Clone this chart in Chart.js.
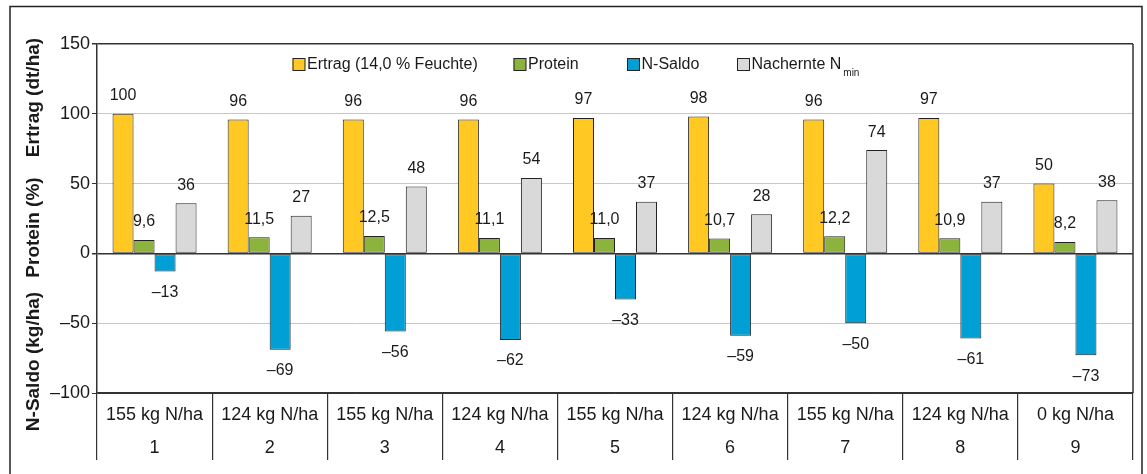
<!DOCTYPE html>
<html>
<head>
<meta charset="utf-8">
<script src="https://cdn.jsdelivr.net/npm/chart.js@4.4.1/dist/chart.umd.min.js"></script>
<style>
  html, body { margin: 0; padding: 0; background: #fff; }
  #wrap { width: 1147px; height: 474px; position: relative; }
</style>
</head>
<body>
<div id="wrap"><canvas id="chart" width="1147" height="474"></canvas></div>
<script>
// data
var rates = ["155 kg N/ha", "124 kg N/ha", "155 kg N/ha", "124 kg N/ha", "155 kg N/ha", "124 kg N/ha", "155 kg N/ha", "124 kg N/ha", "0 kg N/ha"];
var variants = ["1", "2", "3", "4", "5", "6", "7", "8", "9"];
var ertrag = [100, 96, 96, 96, 97, 98, 96, 97, 50];
var protein = [9.6, 11.5, 12.5, 11.1, 11.0, 10.7, 12.2, 10.9, 8.2];
var nSaldo = [-13, -69, -56, -62, -33, -59, -50, -61, -73];
var nachernte = [36, 27, 48, 54, 37, 28, 74, 37, 38];
var seriesNames = ["Ertrag (14,0 % Feuchte)", "Protein", "N-Saldo", "Nachernte N"];
var seriesColors = ["#FFC823", "#8CB43C", "#00A0D7", "#D9D9D9"];
var axisTitles = ["N-Saldo (kg/ha)", "Protein (%)", "Ertrag (dt/ha)"];

var FONT = "'Liberation Sans', Arial, sans-serif";
var INK = "#1a1a1a";

function fmt(v, dec) {
  var s = dec ? v.toFixed(1).replace(".", ",") : String(Math.round(v));
  return s.replace("-", "\u2013");
}

var labels = rates.map(function (r, i) { return [r, variants[i]]; });

function ds(name, data, color) {
  return {
    label: name, data: data, backgroundColor: color,
    borderColor: "#222", borderWidth: 1, borderSkipped: false
  };
}

var frame = {
  id: "frame",
  beforeDraw: function (chart) {
    var c = chart.ctx;
    c.save();
    c.fillStyle = "#fff";
    c.fillRect(0, 0, chart.width, chart.height);
    c.strokeStyle = "#222";
    c.lineWidth = 1.5;
    c.beginPath();
    c.moveTo(10, 480); c.lineTo(10, 6.5); c.lineTo(1142, 6.5); c.lineTo(1142, 480);
    c.stroke();
    c.restore();
  },
  afterDraw: function (chart) {
    var c = chart.ctx, a = chart.chartArea;
    c.save();
    // right border of the plot
    c.strokeStyle = "#333";
    c.lineWidth = 1.5;
    c.beginPath();
    c.moveTo(a.right, a.top); c.lineTo(a.right, a.bottom);
    c.stroke();

    // axis titles, rotated
    c.fillStyle = INK;
    c.font = "bold 19px " + FONT;
    c.textAlign = "center";
    c.textBaseline = "middle";
    var ys = [361.5, 227.5, 97.5];
    for (var i = 0; i < axisTitles.length; i++) {
      c.save();
      c.translate(34, ys[i]);
      c.rotate(-Math.PI / 2);
      c.fillText(axisTitles[i], 0, 0);
      c.restore();
    }

    // legend
    var boxX = [292.5, 513.5, 627, 737];
    c.font = "16px " + FONT;
    c.textAlign = "left";
    for (var j = 0; j < seriesNames.length; j++) {
      c.fillStyle = seriesColors[j];
      c.fillRect(boxX[j], 58, 12.5, 12.5);
      c.strokeStyle = "#222";
      c.lineWidth = 1;
      c.strokeRect(boxX[j] + 0.5, 58.5, 12, 12);
      c.fillStyle = INK;
      c.fillText(seriesNames[j], boxX[j] + 14.5, 64.5);
      if (j === 3) {
        var w = c.measureText(seriesNames[j]).width;
        c.font = "10px " + FONT;
        c.fillText("min", boxX[j] + 14.5 + w + 2, 73);
        c.font = "16px " + FONT;
      }
    }

    // value labels
    c.font = "16px " + FONT;
    c.textAlign = "center";
    c.textBaseline = "middle";
    chart.data.datasets.forEach(function (d, di) {
      var meta = chart.getDatasetMeta(di);
      meta.data.forEach(function (bar, k) {
        var v = d.data[k];
        var y = v >= 0 ? bar.y - 18 : bar.y + 21;
        c.fillText(fmt(v, di === 1), bar.x, y);
      });
    });
    c.restore();
  }
};

new Chart(document.getElementById("chart").getContext("2d"), {
  type: "bar",
  data: {
    labels: labels,
    datasets: [
      ds(seriesNames[0], ertrag, seriesColors[0]),
      ds(seriesNames[1], protein, seriesColors[1]),
      ds(seriesNames[2], nSaldo, seriesColors[2]),
      ds(seriesNames[3], nachernte, seriesColors[3])
    ]
  },
  options: {
    responsive: false,
    animation: false,
    devicePixelRatio: 1,
    layout: { padding: { left: 0, right: 14, top: 44, bottom: 0 } },
    datasets: { bar: { barPercentage: 1, categoryPercentage: 0.73 } },
    plugins: { legend: { display: false }, tooltip: { enabled: false } },
    scales: {
      x: {
        afterFit: function (s) { s.height = 81; },
        border: { display: true, color: "#333", width: 1.5 },
        grid: {
          offset: true, drawOnChartArea: false, drawTicks: true,
          tickLength: 67, color: "#333", lineWidth: 1.2
        },
        ticks: {
          padding: -61.5, color: INK, maxRotation: 0, autoSkip: false,
          font: { family: FONT, size: 18, lineHeight: "33px" }
        }
      },
      y: {
        min: -100, max: 150,
        afterFit: function (s) { s.width = 97; },
        border: { display: true, color: "#333", width: 1.5 },
        grid: {
          color: function (ctx) {
            var v = ctx.tick.value;
            return (v === 0 || v === 150 || v === -100) ? "#333" : "#c8c8c8";
          },
          lineWidth: function (ctx) {
            var v = ctx.tick.value;
            return (v === 0 || v === 150) ? 1.5 : 1;
          },
          tickColor: "#333", tickLength: 5
        },
        ticks: {
          stepSize: 50, padding: 2, color: INK,
          font: { family: FONT, size: 18 },
          callback: function (v) { return String(v).replace("-", "\u2013"); }
        }
      }
    }
  },
  plugins: [frame]
});
</script>
</body>
</html>
